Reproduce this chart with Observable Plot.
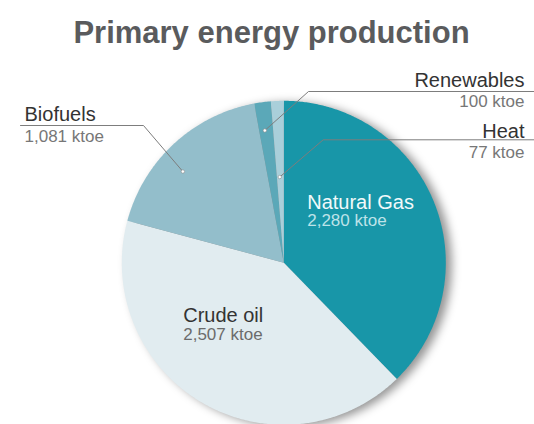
<!DOCTYPE html>
<html>
<head>
<meta charset="utf-8">
<script src="https://cdn.jsdelivr.net/npm/d3@7"></script>
<script src="https://cdn.jsdelivr.net/npm/@observablehq/plot@0.6"></script>
<style>
  html, body { margin: 0; padding: 0; background: #fff; }
  #title {
    box-sizing: border-box; width: 534px; height: 60px;
    padding-top: 17px; padding-left: 9px;
    font: bold 31px "Liberation Sans", Arial, sans-serif; line-height: 1;
    color: #5a5b5d; text-align: center; white-space: nowrap;
  }
</style>
</head>
<body>
<div id="title">Primary energy production</div>
<div id="chart"></div>
<script>
// ---- data ----
const names  = ["Natural Gas", "Crude oil", "Biofuels", "Renewables", "Heat"];
const values = [2280, 2507, 1081, 100, 77];
const unit   = "ktoe";

// ---- styles / layout ----
const colors = ["#1896A8", "#E1ECF0", "#93BECB", "#5BA8B8", "#A9CFDA"];
const W = 534, H = 364;
const CX = 283.3, CY = 202.3, R = 162;           // pie centre and radius (px)
const ux = px => (px - CX) / R, uy = py => (py - CY) / R;
const font = "'Liberation Sans', Arial, sans-serif";

const data = names.map((n, i) => ({name: n, value: values[i]}));
const arcs = d3.pie().sort(null).value(d => d.value)(data);

// slice polygons in unit-radius coordinates (y down)
const slicePts = [];
arcs.forEach(a => {
  const n = Math.max(2, Math.ceil((a.endAngle - a.startAngle) / (Math.PI / 360)));
  slicePts.push({name: a.data.name, x: 0, y: 0});
  for (let k = 0; k <= n; k++) {
    const t = a.startAngle + (a.endAngle - a.startAngle) * k / n;
    slicePts.push({name: a.data.name, x: Math.sin(t), y: -Math.cos(t)});
  }
  slicePts.push({name: a.data.name, x: 0, y: 0});
});

const fmt = d3.format(",");
const byName = Object.fromEntries(arcs.map(a => [a.data.name, a]));

// inner labels (position of text, px)
const inner = [
  {name: "Natural Gas", x: 306.7, y: 148,   vy: 165.7, fill: "#F1F9FA", vfill: "#BDE3E9"},
  {name: "Crude oil",   x: 182.7, y: 261,   vy: 279.3, fill: "#333333", vfill: "#6B6B6B"}
];
// outer labels with leaders
const outer = [
  {name: "Biofuels",   anchor: "start", tx: 24,  y: 60, vy: 81.7, lineY: 65,   lineEnd: 20,  elbowX: 143,   frac: 0.42, rad: 0.84},
  {name: "Renewables", anchor: "end",   tx: 524, y: 26, vy: 46.7, lineY: 31,   lineEnd: 534, elbowX: 308,   frac: 0.40, rad: 0.825},
  {name: "Heat",       anchor: "end",   tx: 524, y: 77, vy: 97.7, lineY: 79.3, lineEnd: 534, elbowX: 322.7, frac: 0.41, rad: 0.53}
];

const leaderPts = [], leaderDots = [];
outer.forEach(o => {
  const a = byName[o.name];
  const t = a.startAngle + (a.endAngle - a.startAngle) * o.frac;
  const dx = o.rad * Math.sin(t), dy = -o.rad * Math.cos(t);
  leaderPts.push({name: o.name, x: ux(o.lineEnd), y: uy(o.lineY)});
  leaderPts.push({name: o.name, x: ux(o.elbowX), y: uy(o.lineY)});
  leaderPts.push({name: o.name, x: dx, y: dy});
  leaderDots.push({x: dx, y: dy});
});

const textRows = [];
inner.forEach(l => {
  const v = byName[l.name].data.value;
  textRows.push({x: ux(l.x), y: uy(l.y),  text: l.name, size: 20, fill: l.fill, anchor: "start"});
  textRows.push({x: ux(l.x), y: uy(l.vy), text: `${fmt(v)} ${unit}`, size: 17, fill: l.vfill, anchor: "start"});
});
outer.forEach(o => {
  const v = byName[o.name].data.value;
  textRows.push({x: ux(o.tx), y: uy(o.y),  text: o.name, size: 20, fill: "#333333", anchor: o.anchor});
  textRows.push({x: ux(o.tx), y: uy(o.vy), text: `${fmt(v)} ${unit}`, size: 17, fill: "#777777", anchor: o.anchor});
});

const textMark = anchor => Plot.text(textRows.filter(d => d.anchor === anchor), {
  x: "x", y: "y", text: "text", fontSize: "size", fill: "fill",
  textAnchor: anchor, lineAnchor: "bottom", fontFamily: font
});

const chart = Plot.plot({
  width: W, height: H,
  margin: 0,
  style: {fontFamily: font, background: "transparent", overflow: "visible"},
  x: {domain: [ux(0), ux(W)], range: [0, W], axis: null},
  y: {domain: [uy(0), uy(H)], range: [0, H], axis: null},
  color: {domain: names, range: colors},
  marks: [
    Plot.dot([{x: 0, y: 0}], {x: "x", y: "y", r: R, dx: 6, dy: 2, fill: "rgba(0,0,0,0.42)", stroke: "none", ariaLabel: "shadow"}),
    Plot.line(slicePts, {x: "x", y: "y", z: "name", fill: "name", stroke: "none", curve: "linear"}),
    Plot.line(leaderPts, {x: "x", y: "y", z: "name", stroke: "#7d7d7d", strokeWidth: 1}),
    Plot.dot(leaderDots, {x: "x", y: "y", r: 1.7, fill: "#ffffff", stroke: "#8a8a8a", strokeWidth: 0.6}),
    textMark("start"),
    textMark("end")
  ]
});
document.getElementById("chart").appendChild(chart);
const sh = chart.querySelector('g[aria-label="shadow"]') || chart.querySelector('g[aria-label="dot"]');
if (sh) sh.style.filter = "blur(5px)";
</script>
</body>
</html>
